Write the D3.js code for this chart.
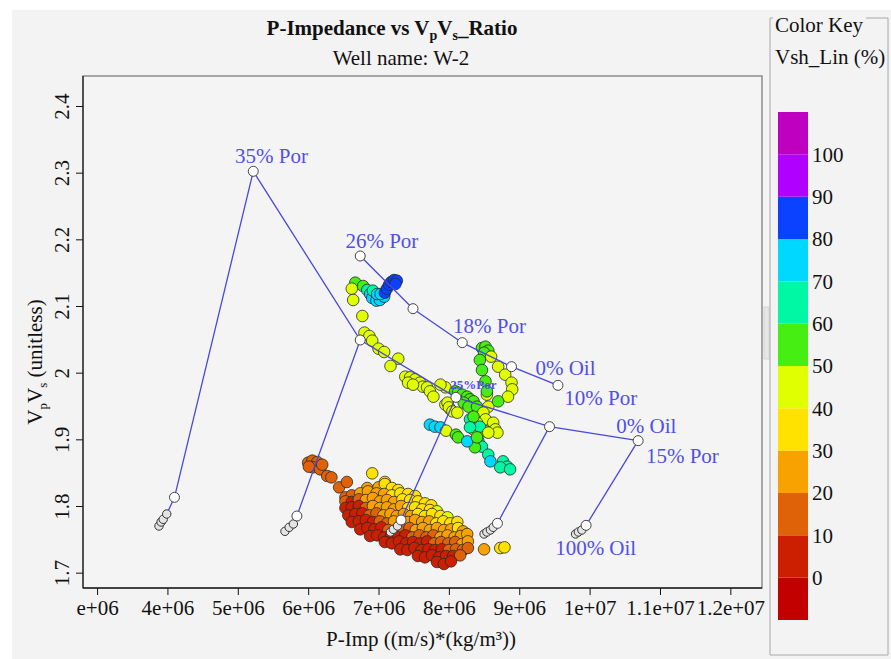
<!DOCTYPE html>
<html>
<head>
<meta charset="utf-8">
<script src="https://cdnjs.cloudflare.com/ajax/libs/d3/7.8.5/d3.min.js"></script>
<style>
body { margin: 0; background: #fff; }
svg text { font-family: "Liberation Serif", "Times New Roman", serif; }
</style>
</head>
<body>
<svg id="chart" width="891" height="659"></svg>
<script>
// axis ticks
var xTickValues = [3e6, 4e6, 5e6, 6e6, 7e6, 8e6, 9e6, 10e6, 11e6, 12e6];
var xTickLabels = ["e+06", "4e+06", "5e+06", "6e+06", "7e+06", "8e+06", "9e+06", "1e+07", "1.1e+07", "1.2e+07"];
var yTickValues = [1.7, 1.8, 1.9, 2.0, 2.1, 2.2, 2.3, 2.4];
var yTickLabels = ["1.7", "1.8", "1.9", "2", "2.1", "2.2", "2.3", "2.4"];

// color key (Vsh_Lin %)
var keyBreaks = [0, 10, 20, 30, 40, 50, 60, 70, 80, 90, 100];
var keyLabels = ["0", "10", "20", "30", "40", "50", "60", "70", "80", "90", "100"];
var keyColors = ["#c20000", "#cc1e00", "#e06208", "#f8a200", "#ffe200", "#e0ff00",
                 "#46ee14", "#00f8a4", "#00d8ff", "#0a42ff", "#b000ff", "#c000c0"];

// rock physics template: brine line (0% oil) for each porosity
var brineImp   = [5.22e6, 6.74e6, 8.10e6, 9.43e6, 10.69e6];
var brineRatio = [2.302, 2.049, 1.963, 1.919, 1.898];
// second porosity trend
var upperImp   = [6.74e6, 7.49e6, 8.19e6, 8.89e6, 9.55e6];
var upperRatio = [2.175, 2.096, 2.045, 2.009, 1.981];
// oil substitution lines, 0% oil -> 100% oil
var oilLines = [
  [[5.22e6, 2.302], [4.10e6, 1.813], [3.99e6, 1.788], [3.94e6, 1.780], [3.91e6, 1.776], [3.88e6, 1.770]],
  [[6.74e6, 2.049], [5.84e6, 1.785], [5.79e6, 1.773], [5.73e6, 1.768], [5.67e6, 1.762]],
  [[8.10e6, 1.963], [7.32e6, 1.779], [7.27e6, 1.770], [7.21e6, 1.765], [7.17e6, 1.761]],
  [[9.43e6, 1.919], [8.69e6, 1.774], [8.63e6, 1.768], [8.59e6, 1.764], [8.54e6, 1.761], [8.50e6, 1.758]],
  [[10.69e6, 1.898], [9.95e6, 1.771], [9.89e6, 1.764], [9.84e6, 1.761], [9.80e6, 1.758]]
];
var labelText  = ["35% Por", "26% Por", "18% Por", "0% Oil", "10% Por", "0% Oil", "15% Por", "100% Oil", "25%Por"];
var labelImp   = [4.96e6, 6.53e6, 8.06e6, 9.23e6, 9.64e6, 10.38e6, 10.80e6, 9.51e6, 8.02e6];
var labelRatio = [2.314, 2.187, 2.060, 1.997, 1.952, 1.910, 1.865, 1.726, 1.975];
var labelSmall = [false, false, false, false, false, false, false, false, true];

// well W-2 samples: [P-Imp, VpVs, Vsh_Lin %]
var wellPoints = [
  [6.67e6,2.135,55],[6.78e6,2.130,55],[6.62e6,2.126,45],[6.64e6,2.109,45],[6.77e6,2.085,42],
  [6.84e6,2.124,65],[6.88e6,2.118,72],[6.91e6,2.112,75],[6.97e6,2.108,75],[7.02e6,2.109,72],
  [7.08e6,2.114,75],[6.92e6,2.123,68],[6.98e6,2.118,75],[7.03e6,2.118,72],[7.09e6,2.120,82],
  [7.12e6,2.126,85],[7.15e6,2.132,85],[7.18e6,2.136,85],[7.22e6,2.139,85],[7.26e6,2.138,85],[7.24e6,2.133,85],
  [6.80e6,2.060,42],[6.87e6,2.055,45],[6.91e6,2.048,42],[7.00e6,2.036,42],[7.08e6,2.031,45],
  [7.28e6,2.021,42],[7.17e6,2.010,42],[7.38e6,1.994,42],[7.45e6,1.993,45],[7.52e6,1.990,42],
  [7.59e6,1.985,42],[7.63e6,1.979,45],[7.69e6,1.978,42],[7.73e6,1.972,42],[7.78e6,1.964,45],
  [7.95e6,1.978,45],[7.42e6,1.985,42],[7.49e6,1.982,45],[7.88e6,1.982,42],
  [7.95e6,1.952,42],[8.02e6,1.945,42],
  [8.09e6,1.972,55],[8.13e6,1.970,58],[8.19e6,1.967,55],[8.26e6,1.964,52],[8.30e6,1.960,55],
  [8.35e6,1.957,55],[8.21e6,1.955,52],[8.28e6,1.949,58],[8.40e6,1.949,50],
  [7.98e6,1.955,42],[8.00e6,1.948,42],[8.05e6,1.942,42],[8.12e6,1.940,45],
  [8.54e6,1.967,45],[8.56e6,1.949,42],[8.49e6,1.940,45],[8.52e6,1.930,42],[8.63e6,1.925,42],
  [8.66e6,1.915,42],[8.69e6,1.910,42],[8.52e6,1.912,38],[8.35e6,1.915,38],[8.40e6,1.925,45],
  [8.30e6,1.930,62],[8.35e6,1.934,55],[8.44e6,1.919,65],[8.56e6,1.910,45],[8.30e6,1.918,65],
  [8.42e6,1.897,65],[8.47e6,1.889,62],[8.37e6,1.888,55],
  [7.73e6,1.922,75],[7.80e6,1.919,75],[7.88e6,1.918,72],[7.96e6,1.913,45],[8.10e6,1.907,55],
  [8.13e6,1.903,55],[8.26e6,1.897,75],[8.40e6,1.903,55],
  [8.56e6,1.877,65],[8.59e6,1.867,72],[8.77e6,1.867,65],[8.83e6,1.859,65],[8.73e6,1.858,62],[8.87e6,1.855,65],
  [8.47e6,2.037,55],[8.52e6,2.039,58],[8.56e6,2.033,55],[8.50e6,2.030,52],[8.44e6,2.019,55],
  [8.47e6,2.004,55],[8.52e6,1.987,58],[8.54e6,1.972,55],[8.60e6,2.024,42],[8.70e6,2.009,45],
  [8.80e6,1.997,42],[8.89e6,1.985,45],[8.90e6,1.975,42],[8.84e6,1.964,45],[8.70e6,1.957,55],
  [6.00e6,1.865,15],[6.06e6,1.868,15],[6.13e6,1.866,12],[6.07e6,1.858,15],[6.17e6,1.855,15],
  [6.20e6,1.862,18],[6.01e6,1.859,12],[6.27e6,1.845,15],[6.33e6,1.843,15],[6.44e6,1.828,15],
  [6.55e6,1.836,15],[6.53e6,1.813,15],[6.91e6,1.849,35],[6.84e6,1.827,25],[7.09e6,1.836,35],
  [8.50e6,1.735,25],[8.73e6,1.737,35],[8.79e6,1.738,35],
  [7.00e6,1.828,28],[7.09e6,1.833,35],[7.19e6,1.827,35],[7.28e6,1.824,35],
  [6.62e6,1.816,15],[6.74e6,1.819,20],[6.85e6,1.822,25],[6.97e6,1.819,25],[7.08e6,1.818,28],
  [7.19e6,1.816,30],[7.31e6,1.819,35],[7.42e6,1.818,35],[7.52e6,1.815,38],
  [6.53e6,1.807,10],[6.62e6,1.806,8],[6.72e6,1.810,15],[6.82e6,1.809,20],[6.92e6,1.812,25],
  [7.02e6,1.807,25],[7.12e6,1.809,28],[7.22e6,1.806,25],[7.34e6,1.810,32],[7.45e6,1.809,35],
  [7.56e6,1.807,35],[7.66e6,1.804,38],[7.75e6,1.801,38],
  [6.53e6,1.797,5],[6.62e6,1.798,3],[6.72e6,1.800,8],[6.82e6,1.797,15],[6.92e6,1.800,20],
  [7.02e6,1.797,25],[7.12e6,1.798,22],[7.22e6,1.795,25],[7.32e6,1.800,28],[7.42e6,1.797,30],
  [7.52e6,1.798,32],[7.62e6,1.795,35],[7.73e6,1.794,38],[7.83e6,1.792,40],
  [6.57e6,1.786,3],[6.67e6,1.788,5],[6.77e6,1.789,8],[6.87e6,1.786,12],[6.97e6,1.789,15],
  [7.07e6,1.786,20],[7.17e6,1.788,25],[7.26e6,1.785,22],[7.36e6,1.788,28],[7.46e6,1.785,25],
  [7.56e6,1.788,30],[7.66e6,1.785,32],[7.76e6,1.788,35],[7.88e6,1.785,38],[7.98e6,1.783,40],
  [6.62e6,1.776,2],[6.72e6,1.777,4],[6.82e6,1.779,6],[6.92e6,1.776,8],[7.02e6,1.777,12],
  [7.12e6,1.774,15],[7.22e6,1.777,20],[7.42e6,1.776,22],[7.52e6,1.779,25],[7.62e6,1.776,28],
  [7.72e6,1.777,25],[7.82e6,1.774,30],[7.92e6,1.777,32],[8.02e6,1.774,35],[8.12e6,1.776,38],
  [6.74e6,1.765,2],[6.84e6,1.767,3],[6.94e6,1.765,5],[7.04e6,1.768,8],[7.14e6,1.764,10],
  [7.34e6,1.765,15],[7.44e6,1.767,18],[7.53e6,1.764,20],[7.63e6,1.767,22],[7.73e6,1.764,25],
  [7.83e6,1.767,25],[7.93e6,1.764,28],[8.03e6,1.765,25],[8.13e6,1.767,30],[8.20e6,1.762,28],
  [6.88e6,1.755,3],[6.98e6,1.756,2],[7.08e6,1.753,5],[7.18e6,1.756,4],[7.28e6,1.753,8],
  [7.38e6,1.756,6],[7.48e6,1.753,10],[7.58e6,1.756,12],[7.68e6,1.753,15],[7.78e6,1.756,18],
  [7.88e6,1.753,20],[7.98e6,1.756,22],[8.08e6,1.753,20],[8.17e6,1.755,25],[8.26e6,1.758,28],
  [7.09e6,1.746,2],[7.19e6,1.744,3],[7.29e6,1.747,5],[7.39e6,1.744,4],[7.49e6,1.746,6],
  [7.59e6,1.744,8],[7.69e6,1.747,5],[7.79e6,1.744,10],[7.89e6,1.746,12],[7.99e6,1.744,15],
  [8.09e6,1.746,18],[8.19e6,1.743,20],[8.27e6,1.747,22],
  [7.31e6,1.735,3],[7.41e6,1.734,2],[7.51e6,1.737,5],[7.61e6,1.734,3],[7.71e6,1.735,6],
  [7.80e6,1.734,4],[7.90e6,1.735,8],[8.00e6,1.734,10],[8.10e6,1.735,12],[8.20e6,1.734,15],[8.27e6,1.737,18],
  [7.56e6,1.725,3],[7.66e6,1.723,5],[7.76e6,1.726,3],[7.86e6,1.723,2],[7.96e6,1.725,6],
  [8.06e6,1.725,8],[8.16e6,1.726,10],
  [7.83e6,1.716,3],[7.93e6,1.713,5],[8.03e6,1.717,4]
];

var svg = d3.select("#chart");
var blue = "#4848e0";

// panel background
svg.append("rect").attr("x", 12).attr("y", 10).attr("width", 879).attr("height", 649).attr("fill", "#f3f3f3");

var xScale = d3.scaleLinear().domain([2.80e6, 12.45e6]).range([83, 762]);
var yScale = d3.scaleLinear().domain([1.677, 2.445]).range([588, 76]);
var color = d3.scaleThreshold().domain(keyBreaks).range(keyColors);

// titles
var title = svg.append("text").attr("x", 392).attr("y", 35).attr("text-anchor", "middle")
    .attr("font-size", 21).attr("font-weight", "bold").attr("fill", "#111");
title.append("tspan").text("P-Impedance vs V");
title.append("tspan").attr("dy", 5).attr("font-size", 14).text("p");
title.append("tspan").attr("dy", -5).text("V");
title.append("tspan").attr("dy", 5).attr("font-size", 14).text("s");
title.append("tspan").attr("dy", -5).text("_Ratio");

svg.append("text").attr("x", 401).attr("y", 65).attr("text-anchor", "middle")
    .attr("font-size", 21).attr("fill", "#111").text("Well name: W-2");

// plot frame
svg.append("rect").attr("x", 83).attr("y", 76).attr("width", 679).attr("height", 512)
    .attr("fill", "#f4f4f4").attr("stroke", "#8c8c8c").attr("stroke-width", 1.5);

// samples
svg.append("g").selectAll("circle")
    .data(wellPoints)
    .enter().append("circle")
    .attr("cx", d => xScale(d[0]))
    .attr("cy", d => yScale(d[1]))
    .attr("r", 5.8)
    .attr("fill", d => color(d[2]))
    .attr("stroke", "#2a2a2a")
    .attr("stroke-width", 0.8);

// template lines
var line = d3.line().x(d => xScale(d[0])).y(d => yScale(d[1]));
var brinePts = brineImp.map((v, i) => [v, brineRatio[i]]);
var upperPts = upperImp.map((v, i) => [v, upperRatio[i]]);
var tmpl = svg.append("g");
[brinePts, upperPts].concat(oilLines).forEach(function(pts) {
    tmpl.append("path").attr("d", line(pts)).attr("fill", "none")
        .attr("stroke", blue).attr("stroke-width", 1.3);
});

// oil-end clusters (small gray circles), then main nodes
oilLines.forEach(function(pts) {
    tmpl.selectAll(null).data(pts.slice(2).reverse()).enter().append("circle")
        .attr("cx", d => xScale(d[0])).attr("cy", d => yScale(d[1])).attr("r", 4.2)
        .attr("fill", "#e4e4e4").attr("stroke", "#333").attr("stroke-width", 1);
    tmpl.append("circle").attr("cx", xScale(pts[1][0])).attr("cy", yScale(pts[1][1])).attr("r", 5)
        .attr("fill", "#fff").attr("stroke", "#444").attr("stroke-width", 1);
});
tmpl.selectAll(null).data(brinePts.concat(upperPts)).enter().append("circle")
    .attr("cx", d => xScale(d[0])).attr("cy", d => yScale(d[1])).attr("r", 5)
    .attr("fill", "#fff").attr("stroke", "#444").attr("stroke-width", 1);

// template labels
svg.append("g").selectAll("text")
    .data(labelText)
    .enter().append("text")
    .attr("x", (d, i) => xScale(labelImp[i]))
    .attr("y", (d, i) => yScale(labelRatio[i]))
    .attr("font-size", (d, i) => labelSmall[i] ? 13 : 21)
    .attr("font-weight", (d, i) => labelSmall[i] ? "bold" : "normal")
    .attr("fill", "#4f4fea")
    .text(d => d);

// x axis
var xAxisG = svg.append("g").attr("transform", "translate(0,588)");
xAxisG.call(d3.axisBottom(xScale).tickValues(d3.range(2.8e6, 12.45e6, 0.2e6)).tickSize(4).tickFormat(""));
xAxisG.call(d3.axisBottom(xScale).tickValues(xTickValues).tickSize(7)
    .tickFormat((d, i) => xTickLabels[i]));
xAxisG.selectAll(".domain").remove();
xAxisG.selectAll("line").attr("stroke", "#111");
xAxisG.selectAll("text").attr("font-size", 21).attr("fill", "#111").attr("y", 12)
    .attr("font-family", "Liberation Serif");

// y axis
var yAxisG = svg.append("g").attr("transform", "translate(83,0)");
yAxisG.call(d3.axisLeft(yScale).tickValues(d3.range(1.68, 2.445, 0.02)).tickSize(4).tickFormat(""));
yAxisG.call(d3.axisLeft(yScale).tickValues(yTickValues).tickSize(7)
    .tickFormat((d, i) => yTickLabels[i]));
yAxisG.selectAll(".domain").remove();
yAxisG.selectAll("line").attr("stroke", "#111");
yAxisG.selectAll(".tick text")
    .attr("font-size", 21).attr("fill", "#111").attr("font-family", "Liberation Serif")
    .attr("x", null).attr("dy", null)
    .attr("text-anchor", "middle")
    .attr("transform", "translate(-14,0) rotate(-90)");

svg.append("line").attr("x1", 83).attr("x2", 83).attr("y1", 76).attr("y2", 588).attr("stroke", "#222").attr("stroke-width", 1.3);
svg.append("line").attr("x1", 83).attr("x2", 762).attr("y1", 588).attr("y2", 588).attr("stroke", "#222").attr("stroke-width", 1.3);

// axis titles
svg.append("text").attr("x", 421).attr("y", 646).attr("text-anchor", "middle")
    .attr("font-size", 21).attr("fill", "#111").text("P-Imp ((m/s)*(kg/m³))");

var yTitle = svg.append("text").attr("transform", "translate(42,362) rotate(-90)")
    .attr("text-anchor", "middle").attr("font-size", 21).attr("fill", "#111");
yTitle.append("tspan").text("V");
yTitle.append("tspan").attr("dy", 5).attr("font-size", 13).text("p");
yTitle.append("tspan").attr("dy", -5).text("V");
yTitle.append("tspan").attr("dy", 5).attr("font-size", 13).text("s");
yTitle.append("tspan").attr("dy", -5).text(" (unitless)");

// splitter grip
svg.append("rect").attr("x", 764).attr("y", 307).attr("width", 5).attr("height", 52)
    .attr("fill", "#e6e6e6").attr("stroke", "#cfcfcf").attr("stroke-width", 0.8);

// color key box
var key = svg.append("g");
key.append("path")
    .attr("d", "M773,18 H770 V655 H888 V18 H866")
    .attr("fill", "none").attr("stroke", "#a8a8a8").attr("stroke-width", 1);
key.append("text").attr("x", 775).attr("y", 32).attr("font-size", 21).attr("fill", "#111").text("Color Key");
key.append("text").attr("x", 775).attr("y", 64).attr("font-size", 21).attr("fill", "#111").text("Vsh_Lin (%)");

var keyScale = d3.scaleLinear().domain([-10, 110]).range([620, 112]);
key.selectAll("rect.band")
    .data(keyColors)
    .enter().append("rect")
    .attr("class", "band")
    .attr("x", 778).attr("width", 30)
    .attr("y", (d, i) => keyScale(i * 10))
    .attr("height", (d, i) => keyScale(i * 10 - 10) - keyScale(i * 10))
    .attr("fill", d => d);
key.selectAll("text.lab")
    .data(keyLabels)
    .enter().append("text")
    .attr("class", "lab")
    .attr("x", 812)
    .attr("y", (d, i) => keyScale(keyBreaks[i]))
    .attr("dy", "0.35em")
    .attr("font-size", 21).attr("fill", "#111")
    .text(d => d);
</script>
</body>
</html>
